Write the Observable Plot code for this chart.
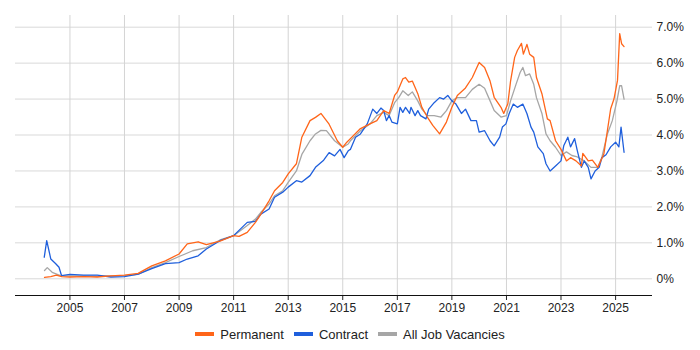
<!DOCTYPE html>
<html>
<head>
<meta charset="utf-8">
<script src="https://cdn.jsdelivr.net/npm/d3@7"></script>
<script src="https://cdn.jsdelivr.net/npm/@observablehq/plot@0.6"></script>
<style>
  body { margin: 0; background: #fff; font-family: "Liberation Sans", Arial, sans-serif; }
  #chart { width: 700px; }
  .legend { display: flex; justify-content: center; align-items: center; height: 32px; font-size: 13px; color: #222; }
  .legend span.item { display: inline-flex; align-items: center; margin: 0 5px; }
  .legend i { display: inline-block; width: 19px; height: 4px; margin-right: 6px; }
</style>
</head>
<body>
<div id="chart"></div>
<script>
// Decimal years and percentage values
const permYears = [2004.07,2004.3,2004.5,2004.7,2005,2005.5,2006,2006.5,2007,2007.5,2008,2008.5,2009,2009.3,2009.7,2010,2010.5,2011,2011.2,2011.5,2011.8,2012,2012.3,2012.5,2012.8,2013,2013.3,2013.5,2013.8,2014,2014.2,2014.5,2014.8,2015,2015.15,2015.28,2015.65,2016.0,2016.25,2016.5,2016.7,2016.9,2017.0,2017.2,2017.3,2017.42,2017.55,2017.75,2017.9,2018.1,2018.3,2018.55,2018.8,2019.0,2019.2,2019.5,2019.75,2020.0,2020.2,2020.4,2020.55,2020.8,2020.9,2021.05,2021.15,2021.3,2021.4,2021.55,2021.62,2021.75,2021.85,2022.0,2022.1,2022.3,2022.5,2022.6,2022.8,2023.0,2023.2,2023.35,2023.55,2023.75,2023.8,2024.0,2024.15,2024.35,2024.57,2024.82,2024.94,2025.07,2025.15,2025.22,2025.31];
const permValues = [0.04,0.06,0.1,0.06,0.05,0.06,0.05,0.08,0.1,0.15,0.36,0.5,0.69,0.97,1.03,0.95,1.05,1.2,1.18,1.29,1.57,1.8,2.17,2.45,2.68,2.92,3.2,3.94,4.4,4.49,4.6,4.3,3.84,3.66,3.8,3.9,4.18,4.31,4.4,4.68,4.6,5.1,5.2,5.56,5.6,5.47,5.5,5.15,4.77,4.5,4.27,4.03,4.36,4.77,5.1,5.31,5.6,6.02,5.88,5.5,5.05,4.77,4.6,4.87,5.5,6.16,6.35,6.55,6.25,6.52,6.25,6.16,5.6,5.15,4.45,4.4,3.84,3.6,3.28,3.37,3.28,3.14,3.49,3.28,3.3,3.1,3.47,4.73,5.0,5.52,6.82,6.54,6.46];

const contYears = [2004.06,2004.15,2004.3,2004.48,2004.6,2004.69,2005,2005.5,2006,2006.5,2007,2007.5,2008,2008.5,2009,2009.3,2009.7,2010,2010.5,2011,2011.5,2011.8,2012,2012.3,2012.5,2012.8,2013,2013.3,2013.5,2013.8,2014,2014.3,2014.5,2014.7,2014.9,2015.05,2015.2,2015.28,2015.47,2015.65,2015.9,2016.1,2016.25,2016.4,2016.5,2016.6,2016.7,2016.8,2017.0,2017.1,2017.2,2017.3,2017.45,2017.5,2017.65,2017.75,2017.85,2018.05,2018.15,2018.35,2018.55,2018.7,2018.85,2019.0,2019.15,2019.35,2019.5,2019.7,2019.9,2020.0,2020.2,2020.4,2020.55,2020.75,2020.85,2020.98,2021.1,2021.25,2021.4,2021.6,2021.75,2021.9,2022.0,2022.15,2022.35,2022.45,2022.6,2022.8,2023.0,2023.1,2023.25,2023.35,2023.5,2023.6,2023.75,2023.85,2024.0,2024.1,2024.25,2024.4,2024.5,2024.65,2024.82,2025.0,2025.12,2025.2,2025.31];
const contValues = [0.6,1.06,0.55,0.42,0.32,0.09,0.12,0.1,0.1,0.05,0.06,0.13,0.28,0.42,0.45,0.55,0.64,0.83,1.06,1.2,1.57,1.6,1.8,1.94,2.27,2.41,2.55,2.73,2.69,2.87,3.1,3.3,3.51,3.42,3.6,3.37,3.56,3.6,3.94,4.03,4.31,4.72,4.6,4.75,4.68,4.4,4.54,4.36,4.31,4.77,4.63,4.77,4.6,4.77,4.54,4.68,4.54,4.45,4.72,4.9,5.04,5.0,5.1,4.95,4.86,4.6,4.72,4.4,4.4,4.08,4.12,3.84,3.7,3.94,4.22,4.31,4.6,4.86,4.77,4.86,4.6,4.22,4.08,3.67,3.48,3.2,3.0,3.14,3.28,3.7,3.94,3.67,3.9,3.56,3.1,3.28,3.1,2.78,3.0,3.1,3.37,3.45,3.67,3.8,3.67,4.22,3.52];

const allYears = [2004.07,2004.17,2004.35,2004.65,2005,2005.5,2006,2006.5,2007,2007.5,2008,2008.5,2009,2009.5,2010,2010.5,2011,2011.5,2011.8,2012,2012.3,2012.5,2012.8,2013,2013.3,2013.5,2013.8,2014,2014.2,2014.4,2014.7,2015,2015.2,2015.28,2015.65,2016.0,2016.25,2016.5,2016.7,2016.9,2017.05,2017.2,2017.4,2017.55,2017.75,2017.9,2018.1,2018.35,2018.6,2018.8,2019.0,2019.2,2019.5,2019.75,2020.0,2020.2,2020.4,2020.55,2020.8,2021.0,2021.15,2021.35,2021.5,2021.6,2021.7,2021.85,2022.0,2022.1,2022.3,2022.45,2022.6,2022.8,2023.0,2023.2,2023.4,2023.6,2023.85,2024.1,2024.35,2024.5,2024.7,2024.88,2025.05,2025.15,2025.22,2025.31];
const allValues = [0.23,0.31,0.18,0.09,0.08,0.08,0.07,0.08,0.09,0.12,0.31,0.45,0.62,0.78,0.87,1.08,1.2,1.48,1.66,1.85,2.08,2.31,2.45,2.68,3.0,3.46,3.84,4.03,4.13,4.12,3.84,3.66,3.75,3.84,4.12,4.31,4.54,4.63,4.54,4.9,5.04,5.23,5.1,5.2,4.95,4.72,4.54,4.54,4.5,4.68,4.95,5.04,5.04,5.27,5.41,5.3,4.95,4.68,4.5,4.54,4.95,5.41,5.74,5.88,5.65,5.7,5.41,5.04,4.6,4.03,3.84,3.66,3.43,3.53,3.43,3.39,3.28,3.1,3.1,3.39,4.03,4.4,4.95,5.37,5.37,5.0];

const yTicks = [0,1,2,3,4,5,6,7];
const xTickYears = [2005,2007,2009,2011,2013,2015,2017,2019,2021,2023,2025];

const series = [
  {name: "Permanent", color: "#ff6519", years: permYears, values: permValues},
  {name: "Contract", color: "#1f5fdc", years: contYears, values: contValues},
  {name: "All Job Vacancies", color: "#a6a6a6", years: allYears, values: allValues}
];

function toDate(y) {
  const yr = Math.floor(y);
  const start = new Date(yr, 0, 1), end = new Date(yr + 1, 0, 1);
  return new Date(+start + (y - yr) * (end - start));
}

const rows = [];
for (const s of series) s.years.forEach((yv, i) => rows.push({series: s.name, date: toDate(yv), value: s.values[i]}));

const drawOrder = ["All Job Vacancies", "Contract", "Permanent"];
const color = Object.fromEntries(series.map(s => [s.name, s.color]));

const chart = Plot.plot({
  width: 700,
  height: 318,
  marginLeft: 15,
  marginRight: 48,
  marginTop: 15,
  marginBottom: 23,
  style: {fontFamily: "Liberation Sans, Arial, sans-serif", fontSize: "12px", color: "#222", background: "#fff"},
  x: {type: "time", domain: [new Date(2003, 0, 3), new Date(2026, 4, 10)], label: null},
  y: {domain: [-0.465, 7.325], label: null},
  marks: [
    Plot.gridY(yTicks, {stroke: "#d9d9d9", strokeOpacity: 1}),
    Plot.gridX(xTickYears.map(y => new Date(y, 0, 1)), {stroke: "#d4d4d4", strokeOpacity: 1}),
    Plot.axisY(yTicks, {anchor: "right", label: null, tickSize: 0, tickPadding: 4, fontSize: 12, fill: "#222", tickFormat: d => d === 0 ? "0%" : d.toFixed(1) + "%"}),
    Plot.axisX(xTickYears.map(y => new Date(y, 0, 1)), {anchor: "bottom", label: null, tickSize: 5, tickPadding: 3, fontSize: 12, fill: "#222", stroke: "#222", tickFormat: d => String(d.getFullYear())}),
    ...drawOrder.map(n => Plot.lineY(rows.filter(r => r.series === n), {x: "date", y: "value", stroke: color[n], strokeWidth: 1.3})),
    Plot.ruleY([-0.465], {stroke: "#111", strokeWidth: 1})
  ]
});
document.getElementById("chart").appendChild(chart);

const legend = document.createElement("div");
legend.className = "legend";
for (const s of series) {
  const item = document.createElement("span");
  item.className = "item";
  const sw = document.createElement("i");
  sw.style.background = s.color;
  item.appendChild(sw);
  item.appendChild(document.createTextNode(s.name));
  legend.appendChild(item);
}
document.getElementById("chart").appendChild(legend);
</script>
</body>
</html>
